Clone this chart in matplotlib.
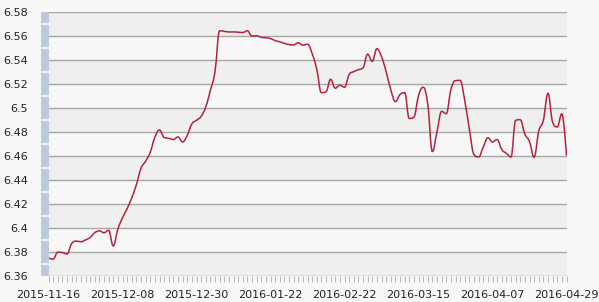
import numpy as np
import matplotlib
matplotlib.use("Agg")
import matplotlib.pyplot as plt
from matplotlib.patches import Rectangle, PathPatch
from matplotlib.path import Path
import matplotlib.transforms as mtransforms

# ---- data (USD/CNY rate, trading days) ----
rates = [
    6.3750, 6.3740, 6.3798, 6.3795, 6.3783, 6.3870, 6.3890, 6.3885, 6.3900, 6.3920,
    6.3960, 6.3975, 6.3960, 6.3980, 6.3850, 6.3990, 6.4085, 6.4160, 6.4250, 6.4360,
    6.4495, 6.4555, 6.4630, 6.4755, 6.4815, 6.4752, 6.4745, 6.4735, 6.4757, 6.4715,
    6.4770, 6.4865, 6.4895, 6.4928, 6.5006, 6.5144, 6.5300, 6.5640, 6.5635, 6.5630,
    6.5630, 6.5628, 6.5625, 6.5640, 6.5595, 6.5598, 6.5585, 6.5582, 6.5575, 6.5558,
    6.5548, 6.5535, 6.5525, 6.5522, 6.5540, 6.5520, 6.5528, 6.5450, 6.5320, 6.5125,
    6.5132, 6.5236, 6.5162, 6.5186, 6.5170, 6.5275, 6.5300, 6.5316, 6.5330, 6.5445,
    6.5385, 6.5490, 6.5425, 6.5300, 6.5150, 6.5050, 6.5110, 6.5125, 6.4910, 6.4920,
    6.5100, 6.5170, 6.5030, 6.4635, 6.4800, 6.4970, 6.4950, 6.5150, 6.5225, 6.5227,
    6.5060, 6.4820, 6.4610, 6.4590, 6.4672, 6.4750, 6.4715, 6.4735, 6.4652, 6.4620,
    6.4590, 6.4895, 6.4900, 6.4780, 6.4718, 6.4588, 6.4805, 6.4895, 6.5120, 6.4880,
    6.4840, 6.4950, 6.4600,
]
tick_labels = ['2015-11-16', '2015-12-08', '2015-12-30', '2016-01-22',
               '2016-02-22', '2016-03-15', '2016-04-07', '2016-04-29']
tick_step = 16
y_ticks = [6.36, 6.38, 6.40, 6.42, 6.44, 6.46, 6.48, 6.50, 6.52, 6.54, 6.56, 6.58]
y_tick_labels = ['6.36', '6.38', '6.4', '6.42', '6.44', '6.46', '6.48', '6.5',
                 '6.52', '6.54', '6.56', '6.58']


def spline_path(xs, ys, smoothing=1.5):
    """Smooth curve through the given points (cubic Bezier, spline-chart style)."""
    n = len(xs)
    denom = smoothing + 1
    lc = [(xs[i], ys[i]) for i in range(n)]
    rc = [(xs[i], ys[i]) for i in range(n)]
    for i in range(1, n - 1):
        px, py = xs[i], ys[i]
        lx, ly = xs[i - 1], ys[i - 1]
        nx, ny = xs[i + 1], ys[i + 1]
        lcx = (smoothing * px + lx) / denom
        lcy = (smoothing * py + ly) / denom
        rcx = (smoothing * px + nx) / denom
        rcy = (smoothing * py + ny) / denom
        if rcx != lcx:
            corr = ((rcy - lcy) * (rcx - px)) / (rcx - lcx) + py - rcy
            lcy += corr
            rcy += corr
        if lcy > max(ly, py):
            lcy = max(ly, py); rcy = 2 * py - lcy
        elif lcy < min(ly, py):
            lcy = min(ly, py); rcy = 2 * py - lcy
        if rcy > max(py, ny):
            rcy = max(py, ny); lcy = 2 * py - rcy
        elif rcy < min(py, ny):
            rcy = min(py, ny); lcy = 2 * py - rcy
        lc[i] = (lcx, lcy)
        rc[i] = (rcx, rcy)
    verts = [(xs[0], ys[0])]
    codes = [Path.MOVETO]
    for i in range(1, n):
        verts += [rc[i - 1], lc[i], (xs[i], ys[i])]
        codes += [Path.CURVE4] * 3
    return Path(verts, codes)


W, H = 599, 302
bg = '#f8f8f8'
fig = plt.figure(figsize=(W / 100, H / 100), dpi=100, facecolor=bg)
left, right, top, bottom = 48.5, 566.5, 11.5, 276
ax = fig.add_axes([left / W, (H - bottom) / H, (right - left) / W, (bottom - top) / H])
ax.set_facecolor(bg)

x = np.arange(len(rates))
ax.set_xlim(0, len(rates) - 1)
ax.set_ylim(y_ticks[0], y_ticks[-1])

# alternating bands
for k in range(len(y_ticks) - 1):
    lo, hi = y_ticks[k], y_ticks[k + 1]
    idx_from_top = len(y_ticks) - 2 - k
    col = '#efefef' if idx_from_top % 2 == 0 else '#f7f7f7'
    ax.axhspan(lo, hi, color=col, lw=0, zorder=0)

# grid lines
for yv in y_ticks:
    ax.axhline(yv, color='#a6a6a6', lw=1.0, zorder=1)

ax.add_patch(PathPatch(spline_path(list(x), rates), facecolor='none',
                       edgecolor='#b3233b', lw=1.1, zorder=3, joinstyle='round'))

for s in ax.spines.values():
    s.set_visible(False)

# y axis labels
ax.set_yticks(y_ticks)
ax.set_yticklabels(y_tick_labels)
ax.tick_params(axis='y', length=0, pad=14.5, labelsize=8, labelcolor='#222222')

# x axis ticks
major_pos = list(range(0, len(rates), tick_step))
ax.set_xticks(major_pos)
ax.set_xticklabels(tick_labels)
ax.set_xticks(x, minor=True)
ax.tick_params(axis='x', which='both', length=4, width=0.8, color='#b8b8b8',
               direction='out', pad=6, labelsize=8, labelcolor='#222222')

# blue side bar with white breaks
trans = mtransforms.blended_transform_factory(ax.transAxes, ax.transData)
bar_w = 7.5 / (right - left)
ax.add_patch(Rectangle((-bar_w, y_ticks[0]), bar_w, y_ticks[-1] - y_ticks[0],
                       transform=trans, facecolor='#bccbdc', edgecolor='none',
                       clip_on=False, zorder=2))
for k in range(len(y_ticks) - 1):
    mid = (y_ticks[k] + y_ticks[k + 1]) / 2
    ax.plot([-bar_w, 0], [mid, mid], transform=trans, color='white', lw=1.2,
            clip_on=False, zorder=2.5)

fig.savefig('out.png', dpi=100, facecolor=bg)
